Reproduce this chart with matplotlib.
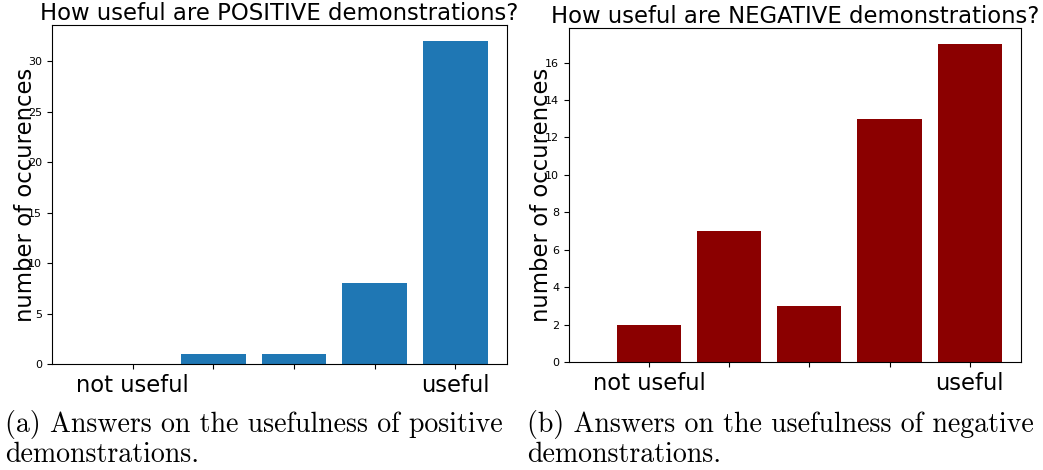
import matplotlib
matplotlib.use('Agg')
import matplotlib.pyplot as plt

positions = [1, 2, 3, 4, 5]
tick_labels = ['not useful', '', '', '', 'useful']
positive_counts = [0, 1, 1, 8, 32]
negative_counts = [2, 7, 3, 13, 17]

fig = plt.figure(figsize=(10.43, 4.70), dpi=100)

# left: positive demonstrations
ax1 = fig.add_axes([0.0499, 0.2255, 0.4362, 0.7213])
ax1.bar(positions, positive_counts, color='#1f77b4')
ax1.set_xlim(0, 5.64)
ax1.set_xticks(positions)
ax1.set_xticklabels(tick_labels, fontsize=16.3)
ax1.tick_params(axis='y', labelsize=8)
ax1.set_ylabel('number of occurences', fontsize=16.4)
ax1.yaxis.set_label_coords(-0.034, 0.5)
ax1.set_title('How useful are POSITIVE demonstrations?', fontsize=16.4, pad=2)

# right: negative demonstrations
ax2 = fig.add_axes([0.5455, 0.2298, 0.4334, 0.7106])
ax2.bar(positions, negative_counts, color='darkred')
ax2.set_xlim(0, 5.64)
ax2.set_xticks(positions)
ax2.set_xticklabels(tick_labels, fontsize=16.3)
ax2.tick_params(axis='y', labelsize=8)
ax2.set_ylabel('number of occurences', fontsize=16.4)
ax2.yaxis.set_label_coords(-0.036, 0.5)
ax2.set_title('How useful are NEGATIVE demonstrations?', fontsize=16.4, pad=2)

# captions
cap = dict(family='cmr10', fontsize=20.1)
fig.text(0.005, 0.081, '(a) Answers on the usefulness of positive', **cap)
fig.text(0.005, 0.017, 'demonstrations.', **cap)
fig.text(0.5053, 0.081, '(b) Answers on the usefulness of negative', **cap)
fig.text(0.5053, 0.017, 'demonstrations.', **cap)

fig.savefig('out.png', dpi=100)
